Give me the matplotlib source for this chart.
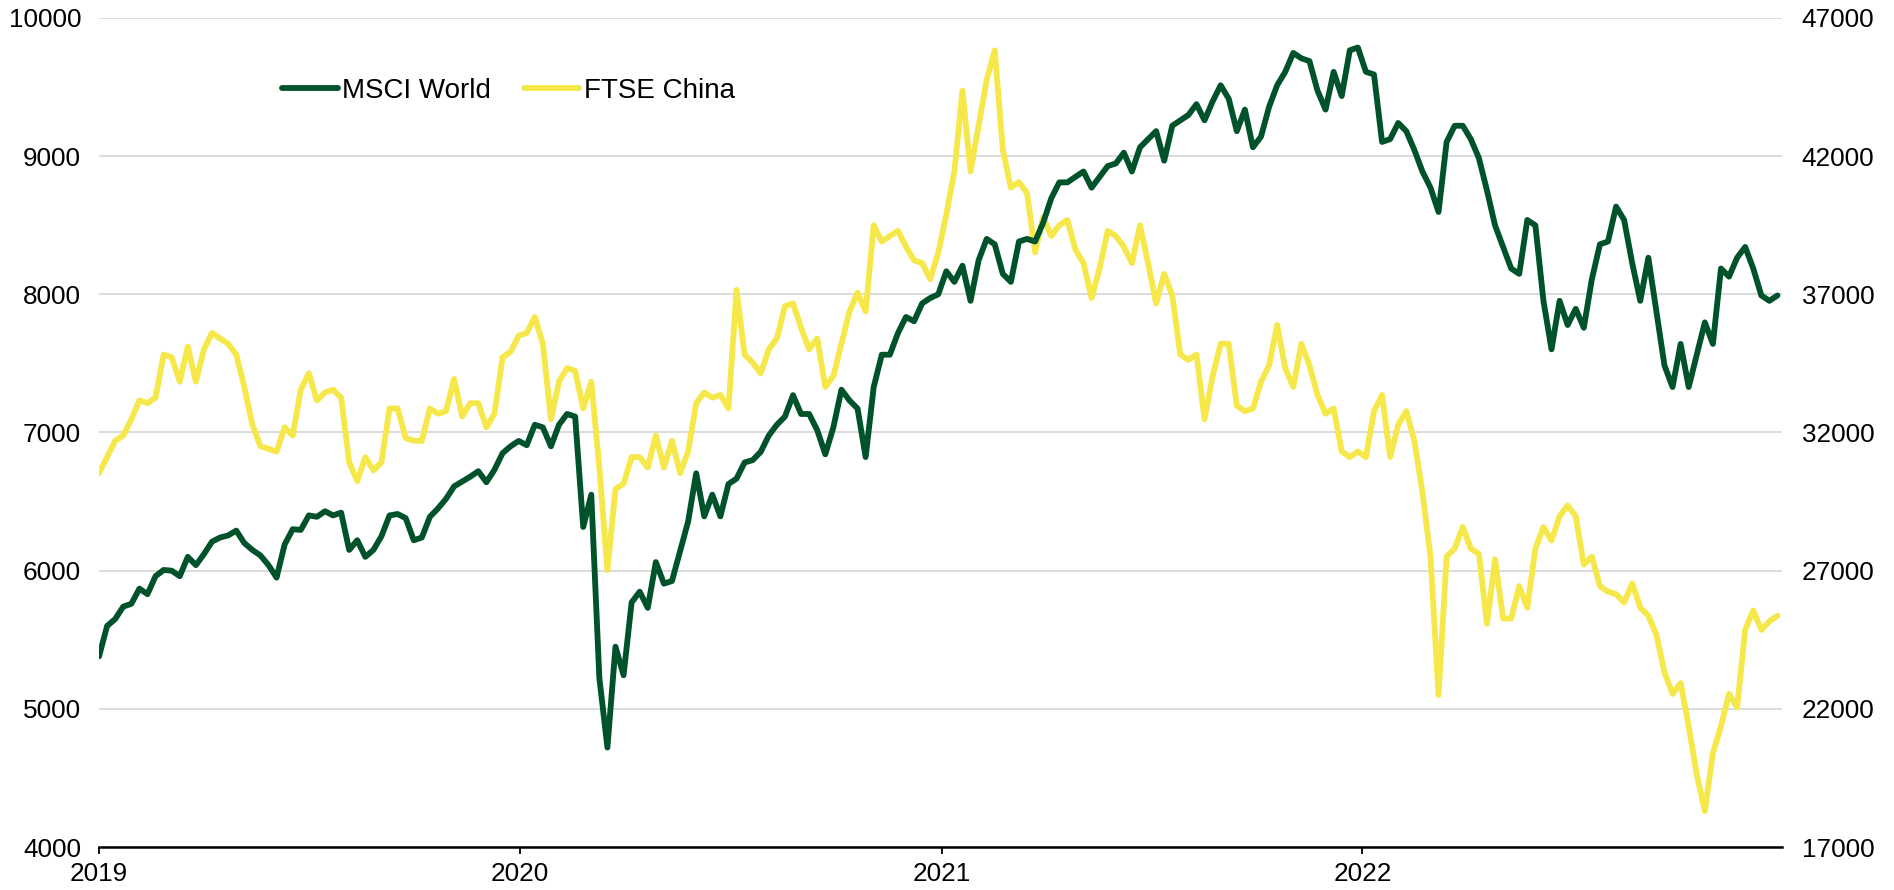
import numpy as np
import pandas as pd
import matplotlib
matplotlib.use("Agg")
import matplotlib.pyplot as plt
import matplotlib.dates as mdates

plt.rcParams['font.family'] = ['Liberation Sans', 'DejaVu Sans']

# weekly readings, first week of 2019 through end of 2022
msci_world = [
    # 2019
    5380, 5600, 5650, 5740, 5760, 5870, 5830, 5960, 6005, 6000, 5960, 6100, 6040,
    6120, 6210, 6240, 6255, 6290, 6200, 6150, 6110, 6040, 5950, 6190, 6300, 6295,
    6400, 6390, 6430, 6400, 6420, 6150, 6220, 6100, 6150, 6250, 6400, 6410, 6380,
    6220, 6240, 6390, 6450, 6520, 6610, 6645, 6680, 6720, 6640, 6730, 6850, 6900,
    # 2020
    6939, 6908, 7056, 7037, 6900, 7056, 7134, 7115, 6316, 6550, 5224, 4720, 5450,
    5243, 5770, 5848, 5731, 6062, 5906, 5925, 6140, 6355, 6705, 6393, 6550, 6393,
    6627, 6666, 6783, 6800, 6860, 6978, 7056, 7115, 7270, 7134, 7134, 7017, 6842,
    7037, 7310, 7232, 7173, 6822, 7329, 7563, 7563, 7719, 7836, 7805, 7934, 7973,
    # 2021
    8000, 8167, 8090, 8207, 7953, 8246, 8401, 8362, 8148, 8090, 8382, 8401, 8382,
    8518, 8694, 8810, 8810, 8850, 8889, 8772, 8850, 8928, 8947, 9025, 8889, 9064,
    9123, 9181, 8967, 9220, 9259, 9298, 9376, 9259, 9396, 9513, 9415, 9181, 9337,
    9064, 9142, 9357, 9513, 9610, 9747, 9708, 9688, 9474, 9337, 9610, 9435, 9766,
    # 2022
    9786, 9610, 9591, 9103, 9123, 9240, 9181, 9045, 8889, 8772, 8596, 9103, 9220,
    9220, 9123, 8986, 8752, 8499, 8343, 8187, 8148, 8538, 8499, 7953, 7602, 7953,
    7778, 7895, 7758, 8109, 8362, 8382, 8635, 8538, 8226, 7953, 8265, 7875, 7485,
    7329, 7641, 7329, 7563, 7797, 7641, 8187, 8128, 8265, 8343, 8187, 7992, 7953,
    7992,
]

ftse_china = [
    # 2019
    30530, 31110, 31700, 31890, 32480, 33160, 33060, 33260, 34820, 34720, 33840, 35110, 33840,
    35010, 35600, 35400, 35210, 34820, 33650, 32280, 31500, 31410, 31310, 32190, 31890, 33550,
    34140, 33160, 33450, 33550, 33260, 30920, 30240, 31110, 30630, 30920, 32870, 32870, 31800,
    31700, 31700, 32870, 32680, 32770, 33940, 32580, 33060, 33060, 32190, 32680, 34720, 34920,
    # 2020
    35500, 35600, 36180, 35210, 32480, 33840, 34330, 34230, 32870, 33840, 30730, 27020, 29950,
    30150, 31110, 31110, 30730, 31890, 30730, 31700, 30530, 31310, 33060, 33450, 33260, 33360,
    32870, 37160, 34820, 34530, 34140, 35010, 35400, 36570, 36670, 35790, 35010, 35400, 33650,
    34040, 35210, 36380, 37060, 36380, 39500, 38910, 39110, 39300, 38720, 38230, 38130, 37550,
    # 2021
    38500, 39890, 41450, 44370, 41450, 43100, 44760, 45830, 42240, 40860, 41060, 40670, 38520,
    39790, 39110, 39500, 39690, 38620, 38130, 36870, 37940, 39300, 39110, 38720, 38130, 39500,
    38130, 36670, 37740, 36960, 34820, 34630, 34820, 32480, 34040, 35210, 35210, 32970, 32770,
    32870, 33840, 34430, 35890, 34330, 33650, 35210, 34430, 33360, 32680, 32870, 31310, 31110,
    # 2022
    31310, 31110, 32770, 33360, 31110, 32280, 32770, 31700, 29850, 27500, 22500, 27510, 27800,
    28580, 27800, 27610, 25080, 27410, 25270, 25270, 26440, 25660, 27800, 28580, 28090, 28970,
    29360, 28970, 27220, 27510, 26440, 26240, 26150, 25850, 26540, 25660, 25370, 24680, 23320,
    22540, 22930, 21370, 19620, 18300, 20400, 21370, 22540, 22050, 24860, 25560, 24860, 25170,
    25370,
]

dates = pd.date_range('2019-01-01', periods=len(msci_world), freq='7D')

green = '#00522A'
yellow = '#F6E84A'

fig = plt.figure(figsize=(18.94, 8.90), dpi=100)
ax = fig.add_axes([0.0523, 0.0483, 0.8886, 0.9315])
ax2 = ax.twinx()

# green on top of yellow
ax.set_zorder(ax2.get_zorder() + 1)
ax.patch.set_visible(False)

l1, = ax.plot(dates, msci_world, color=green, lw=4.2, label='MSCI World',
              solid_joinstyle='round', solid_capstyle='round')
l2, = ax2.plot(dates, ftse_china, color=yellow, lw=4.2, label='FTSE China',
               solid_joinstyle='round', solid_capstyle='round')

ax.set_ylim(4000, 10000)
ax2.set_ylim(17000, 47000)
ax.set_yticks(np.arange(4000, 10001, 1000))
ax2.set_yticks(np.arange(17000, 47001, 5000))
ax.set_xlim(pd.Timestamp('2019-01-01'), pd.Timestamp('2022-12-31'))

ax.xaxis.set_major_locator(mdates.YearLocator())
ax.xaxis.set_major_formatter(mdates.DateFormatter('%Y'))

ax2.grid(axis='y', color='#d9d9d9', lw=1.3)
ax2.set_axisbelow(True)

for a in (ax, ax2):
    for s in ('top', 'left', 'right'):
        a.spines[s].set_visible(False)
ax2.spines['bottom'].set_visible(False)
ax.spines['bottom'].set_linewidth(1.8)

ax.tick_params(axis='y', length=0, pad=13, labelsize=18.8)
ax2.tick_params(axis='y', length=0, pad=14, labelsize=18.8)
ax.tick_params(axis='x', length=5, width=1.3, pad=6, labelsize=18.8, direction='out')

ax.legend([l1, l2], ['MSCI World', 'FTSE China'], loc='center left',
          bbox_to_anchor=(0.1087, 0.912), ncol=2, frameon=False, fontsize=20,
          handlelength=2.0, handletextpad=0.15, columnspacing=1.2,
          borderaxespad=0, borderpad=0)

fig.savefig('out.png', dpi=100)
